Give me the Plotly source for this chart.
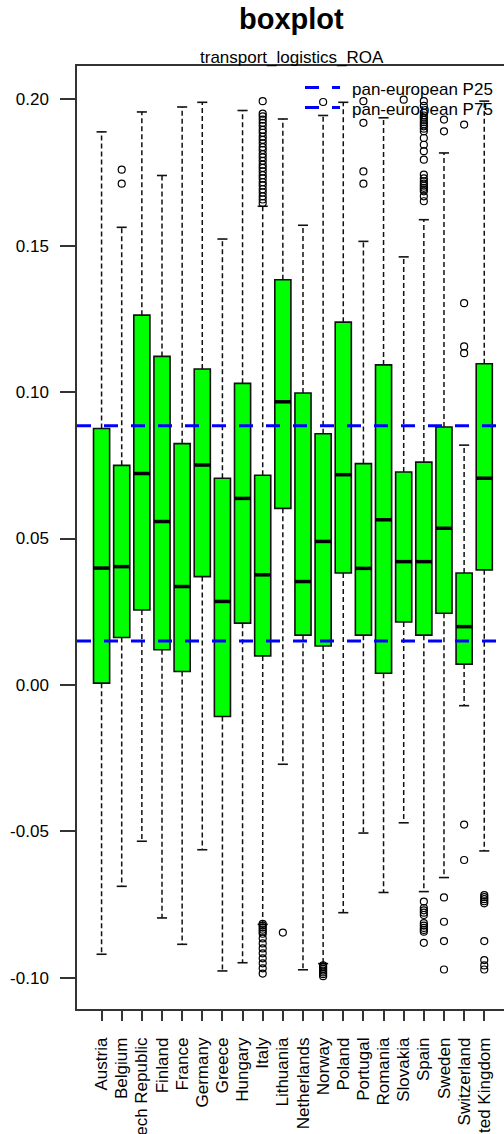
import plotly.graph_objects as go

# ---- data -----------------------------------------------------------------
countries = [
    "Austria", "Belgium", "Czech Republic", "Finland", "France", "Germany",
    "Greece", "Hungary", "Italy", "Lithuania", "Netherlands", "Norway",
    "Poland", "Portugal", "Romania", "Slovakia", "Spain", "Sweden",
    "Switzerland", "United Kingdom",
]

lower_whisker = [
    -0.0920, -0.0688, -0.0534, -0.0796, -0.0886, -0.0563, -0.0977, -0.0949,
    -0.0818, -0.0271, -0.0973, -0.0952, -0.0778, -0.0506, -0.0709, -0.0471,
    -0.0706, -0.0658, -0.0071, -0.0567,
]
q1 = [
    0.0006, 0.0162, 0.0256, 0.0120, 0.0046, 0.0370, -0.0108, 0.0211,
    0.0099, 0.0603, 0.0170, 0.0133, 0.0382, 0.0170, 0.0040, 0.0215,
    0.0170, 0.0245, 0.0071, 0.0393,
]
median = [
    0.0399, 0.0404, 0.0722, 0.0558, 0.0336, 0.0751, 0.0285, 0.0637,
    0.0376, 0.0967, 0.0353, 0.0490, 0.0718, 0.0398, 0.0564, 0.0421,
    0.0421, 0.0535, 0.0199, 0.0706,
]
q3 = [
    0.0876, 0.0750, 0.1263, 0.1122, 0.0824, 0.1079, 0.0706, 0.1030,
    0.0716, 0.1384, 0.0997, 0.0858, 0.1239, 0.0756, 0.1093, 0.0727,
    0.0761, 0.0881, 0.0382, 0.1097,
]
upper_whisker = [
    0.1889, 0.1563, 0.1957, 0.1740, 0.1974, 0.1990, 0.1523, 0.1962,
    0.1635, 0.1933, 0.1570, 0.1945, 0.1990, 0.1515, 0.1937, 0.1462,
    0.1589, 0.1817, 0.0819, 0.1994,
]
outliers = [
    [],                                   # Austria
    [0.1760, 0.1712],                     # Belgium
    [],                                   # Czech Republic
    [],                                   # Finland
    [],                                   # France
    [],                                   # Germany
    [],                                   # Greece
    [],                                   # Hungary
    [0.1994, 0.1951, 0.1942, 0.1931, 0.1920, 0.1909, 0.1896, 0.1886,
     0.1873, 0.1862, 0.1850, 0.1837, 0.1827, 0.1813, 0.1802, 0.1790,
     0.1777, 0.1766, 0.1754, 0.1741, 0.1730, 0.1717, 0.1706, 0.1693,
     0.1682, 0.1669, 0.1658, 0.1646,
     -0.0816, -0.0822, -0.0829, -0.0836, -0.0843, -0.0850, -0.0866,
     -0.0883, -0.0900, -0.0917, -0.0934, -0.0951, -0.0968, -0.0986],  # Italy
    [-0.0846],                            # Lithuania
    [],                                   # Netherlands
    [0.1991, -0.0958, -0.0964, -0.0970, -0.0976, -0.0982, -0.0988,
     -0.0995],                            # Norway
    [],                                   # Poland
    [0.1994, 0.1920, 0.1754, 0.1712],     # Portugal
    [],                                   # Romania
    [0.1999],                             # Slovakia
    [0.1994, 0.1978, 0.1955, 0.1945, 0.1938, 0.1930, 0.1922, 0.1915,
     0.1908, 0.1900, 0.1891, 0.1868, 0.1845, 0.1823, 0.1794, 0.1743,
     0.1730, 0.1720, 0.1712, 0.1705, 0.1698, 0.1692, 0.1686, 0.1669,
     0.1652,
     -0.0740, -0.0762, -0.0770, -0.0778, -0.0786, -0.0814, -0.0822,
     -0.0830, -0.0837, -0.0843, -0.0881],  # Spain
    [0.1931, 0.1891, -0.0726, -0.0809, -0.0875, -0.0972],  # Sweden
    [0.1914, 0.1304, 0.1156, 0.1133, -0.0477, -0.0598],    # Switzerland
    [-0.0718, -0.0725, -0.0732, -0.0739, -0.0746, -0.0875, -0.0940,
     -0.0958, -0.0972],                   # United Kingdom
]

pan_european_p25 = 0.0150
pan_european_p75 = 0.0885

y_tick_vals = [-0.10, -0.05, 0.00, 0.05, 0.10, 0.15, 0.20]
y_tick_text = ["-0.10", "-0.05", "0.00", "0.05", "0.10", "0.15", "0.20"]

legend_labels = ["pan-european P25", "pan-european P75"]

# ---- styling --------------------------------------------------------------
FONT = "Liberation Sans, Arial, Helvetica, sans-serif"
BOX_W = 0.8
CAP_W = 0.5
AXIS_COL = "#333333"

pos = list(range(len(countries)))

fig = go.Figure()

# boxes (Q1 .. Q3)
fig.add_trace(go.Bar(
    x=pos, y=[b - a for a, b in zip(q1, q3)], base=q1, width=BOX_W,
    marker=dict(color="#00FF00", line=dict(color="#111111", width=1.6)),
    hoverinfo="skip",
))

# whiskers (dashed) from box edges to the extremes
wx, wy = [], []
for p, a, lo, b, hi in zip(pos, q1, lower_whisker, q3, upper_whisker):
    wx += [p, p, None, p, p, None]
    wy += [b, hi, None, a, lo, None]
fig.add_trace(go.Scatter(
    x=wx, y=wy, mode="lines",
    line=dict(color="#111111", width=1.5, dash="5px,3px"),
    hoverinfo="skip",
))

# staples
sx, sy = [], []
for p, lo, hi in zip(pos, lower_whisker, upper_whisker):
    sx += [p - CAP_W / 2, p + CAP_W / 2, None, p - CAP_W / 2, p + CAP_W / 2, None]
    sy += [hi, hi, None, lo, lo, None]
fig.add_trace(go.Scatter(
    x=sx, y=sy, mode="lines",
    line=dict(color="#111111", width=1.6),
    hoverinfo="skip",
))

# medians
mx, my = [], []
for p, m in zip(pos, median):
    mx += [p - BOX_W / 2, p + BOX_W / 2, None]
    my += [m, m, None]
fig.add_trace(go.Scatter(
    x=mx, y=my, mode="lines",
    line=dict(color="black", width=3.5),
    hoverinfo="skip",
))

# outliers
ox, oy = [], []
for p, vals in zip(pos, outliers):
    ox += [p] * len(vals)
    oy += vals
fig.add_trace(go.Scatter(
    x=ox, y=oy, mode="markers",
    marker=dict(symbol="circle-open", size=7, color="black",
                line=dict(width=1.2, color="black")),
    hoverinfo="skip",
))

# pan-european reference lines
BLUE_DASH = "14px,13px"
for val in (pan_european_p25, pan_european_p75):
    fig.add_shape(type="line", xref="paper", x0=0, x1=1, yref="y",
                  y0=val, y1=val,
                  line=dict(color="#0000FF", width=3, dash=BLUE_DASH),
                  layer="above")

# legend (top right)
legend_y = [0.9772, 0.9560]
for label, ly in zip(legend_labels, legend_y):
    fig.add_shape(type="line", xref="paper", yref="paper",
                  x0=0.534, x1=0.616, y0=ly, y1=ly,
                  line=dict(color="#0000FF", width=3, dash=BLUE_DASH),
                  layer="above")
    fig.add_annotation(xref="paper", yref="paper", x=0.640, y=ly - 0.002,
                       xanchor="left", yanchor="middle", showarrow=False,
                       text=label, font=dict(family=FONT, size=17, color="black"))

# titles
fig.add_annotation(xref="paper", yref="paper", x=0.5035, y=1.0498,
                   xanchor="center", yanchor="middle", showarrow=False,
                   text="<b>boxplot</b>",
                   font=dict(family=FONT, size=29, color="black"))
fig.add_annotation(xref="paper", yref="paper", x=0.5035, y=1.0095,
                   xanchor="center", yanchor="middle", showarrow=False,
                   text="transport_logistics_ROA",
                   font=dict(family=FONT, size=17, color="black"))

fig.update_layout(
    width=504, height=1134,
    margin=dict(l=77, r=0, t=66, b=125, pad=0),
    paper_bgcolor="white", plot_bgcolor="white",
    showlegend=False,
    font=dict(family=FONT, size=17, color="black"),
    xaxis=dict(
        range=[-1.22, 19.98], tickmode="array", tickvals=pos, ticktext=countries,
        tickangle=-90, ticks="outside", ticklen=10, tickwidth=1.5,
        tickcolor=AXIS_COL, showline=True, linecolor=AXIS_COL, linewidth=1.5,
        mirror=True, showgrid=False, zeroline=False, automargin=False,
        ticklabelstandoff=10, tickfont=dict(family=FONT, size=17, color="black"),
    ),
    yaxis=dict(
        range=[-0.1107, 0.2114], tickmode="array", tickvals=y_tick_vals,
        ticktext=y_tick_text, ticks="outside", ticklen=15, tickwidth=1.5,
        tickcolor=AXIS_COL, showline=True, linecolor=AXIS_COL, linewidth=1.5,
        mirror=False, showgrid=False, zeroline=False, automargin=False,
        ticklabelstandoff=8, tickfont=dict(family=FONT, size=17, color="black"),
    ),
)

fig.write_html("out.html", config={"displayModeBar": False})
